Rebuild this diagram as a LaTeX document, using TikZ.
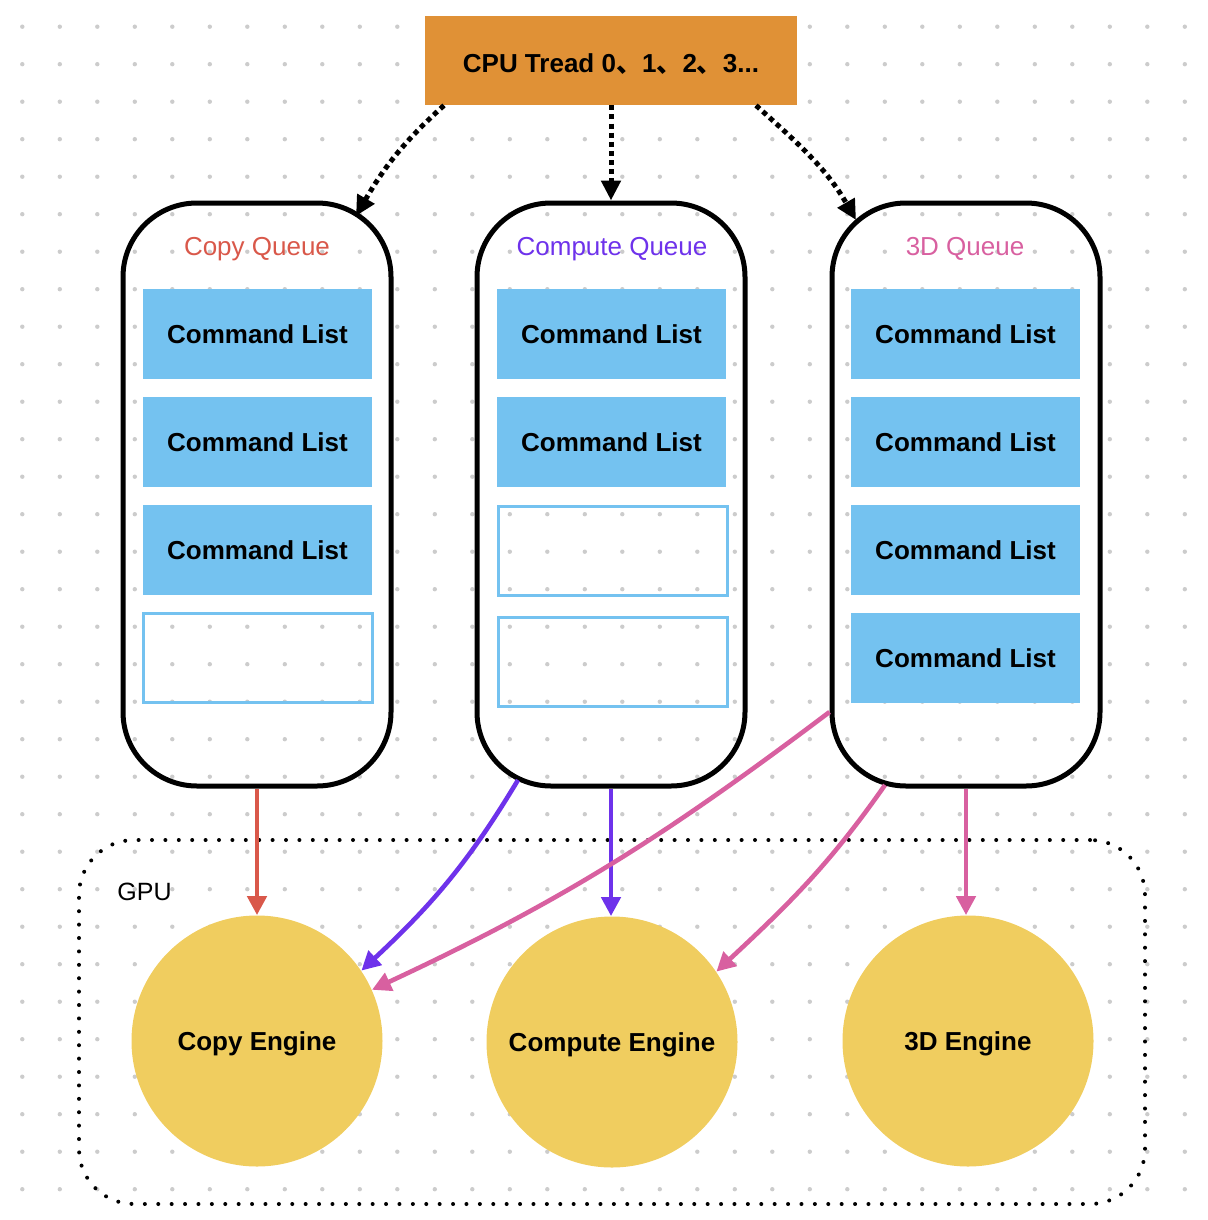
\documentclass[tikz,border=0pt]{standalone}
\usepackage{fontspec}
\setmainfont{Liberation Sans}
\newfontfamily\cjk{Noto Sans CJK SC}
\usepackage{xcolor}
\usetikzlibrary{arrows.meta, positioning}

\definecolor{dotgray}{RGB}{204,204,204}
\definecolor{cpuorange}{RGB}{224,145,54}
\definecolor{listblue}{RGB}{116,194,240}
\definecolor{engineyellow}{RGB}{240,205,95}
\definecolor{copyred}{RGB}{217,88,74}
\definecolor{computepurple}{RGB}{110,50,235}
\definecolor{threedpink}{RGB}{216,96,160}

\begin{document}
\begin{tikzpicture}[x=0.5pt, y=-0.5pt,
    queue/.style={draw, line width=2.5pt, rounded corners=37pt, minimum width=134pt, minimum height=291.5pt},
    cmdlist/.style={fill=listblue, minimum width=114.5pt, minimum height=45pt, font=\fontsize{13}{15}\selectfont\bfseries, text height=9.3pt, text depth=0pt},
    freelist/.style={draw=listblue, line width=1.5pt, minimum width=114.5pt, minimum height=44.5pt},
    engine/.style={circle, fill=engineyellow, minimum size=125.5pt, inner sep=0pt, font=\fontsize{13}{15}\selectfont\bfseries, text height=9.3pt, text depth=0pt},
    qlabel/.style={inner sep=0pt, font=\fontsize{13}{15}\selectfont, text height=9.3pt, text depth=0pt},
    feed/.style={line width=2.5pt, dash pattern=on 2.5pt off 2.05pt, -{Triangle[length=10pt, width=9.5pt]}},
    submit/.style={line width=2.3pt, -{Triangle[length=9.5pt, width=9.5pt]}}]
    \useasboundingbox (0, 0) rectangle (1208, 1220);
    % dotted canvas
    \foreach \i in {0,...,31}
        \foreach \j in {0,...,31}
            \fill[dotgray] ({22.3+37.5*\i}, {26.7+37.5*\j}) circle[radius=1.1pt];

    \node[draw, line width=2pt, dash pattern=on 0pt off 6.7pt, line cap=round, rounded corners=27.5pt,
        minimum width=533pt, minimum height=182pt] (gpu) at (612, 1022) {};
    \node[qlabel, anchor=west, font=\fontsize{12.5}{15}\selectfont] (gpulabel) at (117, 891) {GPU};

    \node[fill=cpuorange, minimum width=186pt, minimum height=44.5pt, font=\fontsize{13}{15}\selectfont\bfseries,
        text height=11.8pt, text depth=0pt] (cpu) at (611, 60.5) {CPU Tread 0{\cjk 、}1{\cjk 、}2{\cjk 、}3...};

    % queues
    \node[queue] (q1) at (257, 494.5) {};
    \node[queue] (q2) at (611, 494.5) {};
    \node[queue] (q3) at (966, 494.5) {};
    \node[qlabel, text=copyred] (q1label) at (257, 246) {Copy Queue};
    \node[qlabel, text=computepurple] (q2label) at (612, 246) {Compute Queue};
    \node[qlabel, text=threedpink] (q3label) at (965, 246) {3D Queue};

    \node[cmdlist] (l11) at (257.5, 334) {Command List};
    \node[cmdlist] (l12) at (257.5, 442) {Command List};
    \node[cmdlist] (l13) at (257.5, 550) {Command List};
    \node[freelist] (l14) at (257.5, 657.5) {};

    \node[cmdlist] (l21) at (611.5, 334) {Command List};
    \node[cmdlist] (l22) at (611.5, 442) {Command List};
    \node[freelist] (l23) at (613, 551) {};
    \node[freelist] (l24) at (613, 662) {};

    \node[cmdlist] (l31) at (965.5, 334) {Command List};
    \node[cmdlist] (l32) at (965.5, 442) {Command List};
    \node[cmdlist] (l33) at (965.5, 550) {Command List};
    \node[cmdlist] (l34) at (965.5, 658) {Command List};

    % engines
    \node[engine] (e1) at (257, 1041) {Copy Engine};
    \node[engine] (e2) at (612, 1042) {Compute Engine};
    \node[engine] (e3) at (968, 1041) {3D Engine};

    \draw[feed] ([xshift=-83.5pt]cpu.south) to[out=222, in=60] ([xshift=-18.75pt, yshift=-7.75pt]q1.north east);
    \draw[feed] (cpu.south) -- (q2.north);
    \draw[feed] ([xshift=72.5pt]cpu.south) to[out=-42, in=120] ([xshift=13.25pt, yshift=-9.75pt]q3.north west);

    \draw[submit, copyred] (q1.south) -- (e1.north);
    \draw[submit, computepurple] ([xshift=21.75pt, yshift=4.25pt]q2.south west) to[out=239, in=43] (e1.34);
    \draw[submit, computepurple] (q2.south) -- (q2.south |- e2.north);
    \draw[submit, threedpink] ([yshift=-108.75pt]q3.west) to[out=217, in=25] (e1.24);
    \draw[submit, threedpink] ([xshift=27.75pt, yshift=1.75pt]q3.south west) to[out=235, in=43] (e2.34);
    \draw[submit, threedpink] (q3.south) -- (q3.south |- e3.north);
\end{tikzpicture}
\end{document}
